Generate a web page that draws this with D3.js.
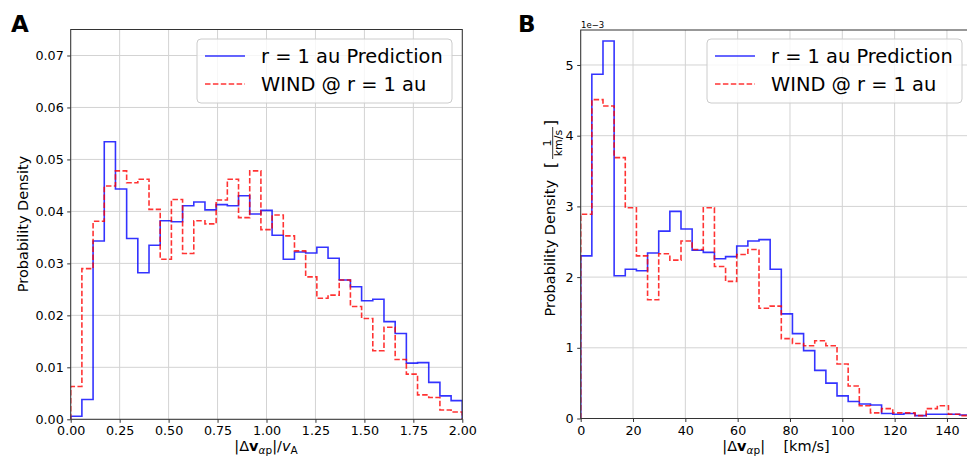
<!DOCTYPE html>
<html>
<head>
<meta charset="utf-8">
<script src="https://cdn.jsdelivr.net/npm/d3@7"></script>
<style>
  body { margin: 0; background: #fff; }
  text { font-family: "DejaVu Sans", sans-serif; fill: #000; }
</style>
</head>
<body>
<div id="chart"></div>
<script>
// panel A: |dv_ap| / v_A, 35 bins on [0, 2]
var binCountA = 35
var binEndA = 2
var predA = [0.0006, 0.0038, 0.0343, 0.0534, 0.0443, 0.0348, 0.0282, 0.0335, 0.0382, 0.0380,
             0.0411, 0.0418, 0.0403, 0.0413, 0.0411, 0.0430, 0.0395, 0.0402, 0.0354, 0.0308,
             0.0322, 0.0320, 0.0331, 0.0310, 0.0268, 0.0255, 0.0228, 0.0231, 0.0188, 0.0165,
             0.0108, 0.0109, 0.0071, 0.0045, 0.0036]
var windA = [0.0063, 0.0290, 0.0381, 0.0449, 0.0478, 0.0455, 0.0462, 0.0404, 0.0308, 0.0423,
             0.0319, 0.0382, 0.0376, 0.0422, 0.0462, 0.0388, 0.0478, 0.0365, 0.0393, 0.0353,
             0.0324, 0.0274, 0.0233, 0.0239, 0.0268, 0.0217, 0.0194, 0.0132, 0.0177, 0.0115,
             0.0087, 0.0047, 0.0042, 0.0018, 0.0014]
var xTicksA = [0, 0.25, 0.5, 0.75, 1, 1.25, 1.5, 1.75, 2]
var yTicksA = [0, 0.01, 0.02, 0.03, 0.04, 0.05, 0.06, 0.07]

// panel B: |dv_ap| in km/s, 35 bins of ~4.26 km/s, density in units of 1e-3
var binCountB = 35
var binWidthB = 4.26
var predB = [2.30, 4.87, 5.34, 2.02, 2.11, 2.09, 2.34, 2.65, 2.93, 2.68,
             2.38, 2.35, 2.26, 2.29, 2.44, 2.51, 2.53, 2.11, 1.48, 1.20,
             0.96, 0.68, 0.50, 0.32, 0.24, 0.205, 0.19, 0.07, 0.06, 0.07,
             0.04, 0.06, 0.06, 0.06, 0.05]
var windB = [2.89, 4.51, 4.42, 3.69, 2.98, 2.30, 1.68, 2.33, 2.24, 2.51,
             2.39, 2.98, 2.15, 1.94, 2.32, 2.39, 1.56, 1.59, 1.13, 1.06,
             1.03, 1.10, 1.03, 0.77, 0.46, 0.18, 0.08, 0.14, 0.08, 0.08,
             0.04, 0.14, 0.18, 0.06, 0.04]
var xTicksB = [0, 20, 40, 60, 80, 100, 120, 140]
var yTicksB = [0, 1, 2, 3, 4, 5]

var legendLabels = ["r = 1 au Prediction", "WIND @ r = 1 au"]

var W = 967, H = 459
var svg = d3.select("#chart").append("svg")
    .attr("width", W).attr("height", H)

var tickFont = "12.7px"

function stepPoints(edges, vals)
{
    var pts = [[edges[0], 0]]
    for (var i = 0; i < vals.length; i++)
    {
        pts.push([edges[i], vals[i]])
    }
    pts.push([edges[vals.length], vals[vals.length - 1]])
    pts.push([edges[vals.length], 0])
    return pts
}

function drawPanel(p)
{
    var x = d3.scaleLinear().domain(p.xDomain).range([p.left, p.right])
    var y = d3.scaleLinear().domain(p.yDomain).range([p.bottom, p.top])

    // grid
    var grid = svg.append("g")
    grid.selectAll(".gx").data(p.xTicks).enter().append("line")
        .attr("x1", d => x(d)).attr("x2", d => x(d))
        .attr("y1", p.top).attr("y2", p.bottom)
        .attr("stroke", "#d3d3d3").attr("stroke-width", 1)
    grid.selectAll(".gy").data(p.yTicks).enter().append("line")
        .attr("x1", p.left).attr("x2", p.right)
        .attr("y1", d => y(d)).attr("y2", d => y(d))
        .attr("stroke", "#d3d3d3").attr("stroke-width", 1)

    var clipId = "clip" + p.name
    svg.append("clipPath").attr("id", clipId)
        .append("rect")
        .attr("x", p.left).attr("y", p.top)
        .attr("width", p.right - p.left).attr("height", p.bottom - p.top)

    var line = d3.line()
        .x(d => x(d[0]))
        .y(d => y(d[1]))
        .curve(d3.curveStepAfter)

    var plot = svg.append("g").attr("clip-path", "url(#" + clipId + ")")
    plot.append("path")
        .datum(stepPoints(p.edges, p.pred))
        .attr("fill", "none")
        .attr("stroke", "#0000ff").attr("stroke-opacity", 0.8)
        .attr("stroke-width", 1.6)
        .attr("d", line)
    plot.append("path")
        .datum(stepPoints(p.edges, p.wind))
        .attr("fill", "none")
        .attr("stroke", "#ff0000").attr("stroke-opacity", 0.8)
        .attr("stroke-width", 1.6)
        .attr("stroke-dasharray", "5.5,2.4")
        .attr("d", line)

    // axes
    var xa = svg.append("g")
        .attr("transform", "translate(0," + p.bottom + ")")
        .call(d3.axisBottom(x).tickValues(p.xTicks).tickFormat(p.xFormat)
            .tickSize(3.5).tickPadding(3.5).tickSizeOuter(0))
    var ya = svg.append("g")
        .attr("transform", "translate(" + p.left + ",0)")
        .call(d3.axisLeft(y).tickValues(p.yTicks).tickFormat(p.yFormat)
            .tickSize(3.5).tickPadding(3.5).tickSizeOuter(0))
    ;[xa, ya].forEach(function(a)
    {
        a.select(".domain").remove()
        a.selectAll("line").attr("stroke", "#333")
        a.selectAll("text").style("font-size", tickFont)
            .style("font-family", "DejaVu Sans").attr("fill", "#000")
    })

    // frame
    svg.append("rect")
        .attr("x", p.left).attr("y", p.top)
        .attr("width", p.right - p.left).attr("height", p.bottom - p.top)
        .attr("fill", "none").attr("stroke", "#333").attr("stroke-width", 1)

    // legend
    var lg = svg.append("g").attr("transform", "translate(" + p.legendX + "," + p.legendY + ")")
    lg.append("rect")
        .attr("width", 255).attr("height", 64).attr("rx", 4)
        .attr("fill", "#fff").attr("fill-opacity", 0.8)
        .attr("stroke", "#cccccc")
    var styles = [{c: "#0000ff", dash: null}, {c: "#ff0000", dash: "5.5,2.4"}]
    legendLabels.forEach(function(t, i)
    {
        var yy = 17 + i * 28
        lg.append("line")
            .attr("x1", 8).attr("x2", 48).attr("y1", yy).attr("y2", yy)
            .attr("stroke", styles[i].c).attr("stroke-opacity", 0.8)
            .attr("stroke-width", 1.6)
            .attr("stroke-dasharray", styles[i].dash)
        lg.append("text")
            .attr("x", 64).attr("y", yy + 7)
            .style("font-size", "19.4px")
            .text(t)
    })

    // panel letter
    svg.append("text")
        .attr("x", p.letterX).attr("y", 32)
        .style("font-size", "23px").style("font-weight", "bold")
        .text(p.name)
}

var edgesA = d3.range(binCountA + 1).map(i => i * binEndA / binCountA)
var edgesB = d3.range(binCountB + 1).map(i => i * binWidthB)

drawPanel({
    name: "A", left: 70.7, right: 462.3, top: 29.5, bottom: 419.3,
    xDomain: [0, 2], yDomain: [0, 0.075],
    xTicks: xTicksA, yTicks: yTicksA,
    xFormat: d3.format(".2f"), yFormat: d3.format(".2f"),
    edges: edgesA, pred: predA, wind: windA,
    legendX: 197, legendY: 39, letterX: 11
})
drawPanel({
    name: "B", left: 580.7, right: 971.8, top: 30, bottom: 418.5,
    xDomain: [0, 149.5], yDomain: [0, 5.495],
    xTicks: xTicksB, yTicks: yTicksB,
    xFormat: d3.format("d"), yFormat: d3.format("d"),
    edges: edgesB, pred: predB, wind: windB,
    legendX: 707, legendY: 39, letterX: 518
})

// offset text for panel B
svg.append("text").attr("x", 581).attr("y", 28)
    .style("font-size", "8.5px").text("1e\u22123")

// axis labels
var labFont = "14.5px"
svg.append("text")
    .attr("transform", "translate(28,224) rotate(-90)")
    .attr("text-anchor", "middle")
    .style("font-size", labFont)
    .text("Probability Density")

// x label A: |Δv_αp|/v_A
var xlA = svg.append("text")
    .attr("x", 266).attr("y", 451)
    .attr("text-anchor", "middle")
    .style("font-size", labFont)
xlA.append("tspan").text("|\u0394")
xlA.append("tspan").style("font-weight", "bold").text("v")
xlA.append("tspan").attr("dy", 3).style("font-size", "10.5px").style("font-style", "italic").text("\u03b1")
xlA.append("tspan").style("font-size", "10.5px").text("p")
xlA.append("tspan").attr("dy", -3).text("|/")
xlA.append("tspan").style("font-style", "italic").text("v")
xlA.append("tspan").attr("dy", 3).style("font-size", "10.5px").text("A")

// x label B: |Δv_αp|   [km/s]
var xlB = svg.append("text")
    .attr("x", 776).attr("y", 451)
    .attr("text-anchor", "middle")
    .style("font-size", labFont)
    .attr("xml:space", "preserve")
xlB.append("tspan").text("|\u0394")
xlB.append("tspan").style("font-weight", "bold").text("v")
xlB.append("tspan").attr("dy", 3).style("font-size", "10.5px").style("font-style", "italic").text("\u03b1")
xlB.append("tspan").style("font-size", "10.5px").text("p")
xlB.append("tspan").attr("dy", -3).text("|    [km/s]")

// y label B with fraction 1/(km/s)
var ylB = svg.append("g").attr("transform", "translate(555,0) rotate(-90)")
ylB.append("text")
    .attr("x", -180).attr("y", 0)
    .attr("text-anchor", "end")
    .style("font-size", labFont)
    .text("Probability Density")
ylB.append("text")
    .attr("x", -168).attr("y", 1)
    .style("font-size", "15.5px")
    .text("[")
ylB.append("text")
    .attr("x", -143).attr("y", -4)
    .attr("text-anchor", "middle")
    .style("font-size", "11px")
    .text("1")
ylB.append("line")
    .attr("x1", -159).attr("x2", -127)
    .attr("y1", -2.3).attr("y2", -2.3)
    .attr("stroke", "#000").attr("stroke-width", 0.8)
ylB.append("text")
    .attr("x", -143).attr("y", 7)
    .attr("text-anchor", "middle")
    .style("font-size", "11px")
    .text("km/s")
ylB.append("text")
    .attr("x", -126).attr("y", 1)
    .style("font-size", "15.5px")
    .text("]")
</script>
</body>
</html>
